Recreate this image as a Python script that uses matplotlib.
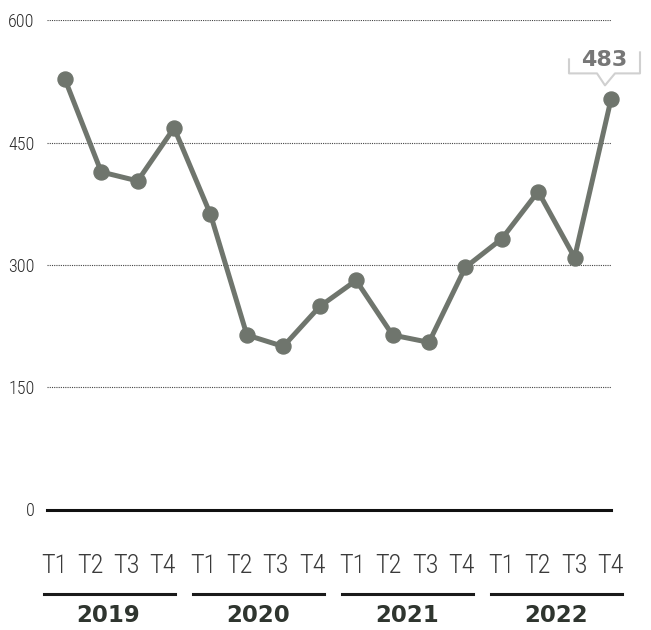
import matplotlib
matplotlib.use("Agg")
import matplotlib.pyplot as plt
from matplotlib.transforms import blended_transform_factory, IdentityTransform
from matplotlib.patches import Polygon
from matplotlib.lines import Line2D

years = ["2019", "2020", "2021", "2022"]
quarters = ["T1", "T2", "T3", "T4"]
values = [528, 414, 403, 468, 362, 214, 200, 249, 281, 214, 205, 297, 332, 390, 309, 503]
callout_text = "483"
y_ticks = [0, 150, 300, 450, 600]

line_color = "#6f756d"
narrow = ["Roboto Condensed", "Roboto", "DejaVu Sans"]

fig = plt.figure(figsize=(6.51, 6.30), dpi=100)
ax = fig.add_axes([47 / 651, (630 - 509.5) / 630, (611 - 47) / 651, 489.2 / 630])

x = list(range(len(values)))
ax.plot(x, values, color=line_color, lw=3.6, marker="o", markersize=10.8,
        clip_on=False, zorder=3)

ax.set_xlim(-0.49, 15.0)
ax.set_ylim(0, 600)
ax.set_yticks(y_ticks)
ax.set_yticklabels([str(v) for v in y_ticks], family=narrow, fontweight="light",
                   fontsize=13, color="#2a2a2a")
ax.tick_params(axis="y", length=0, pad=9)
ax.set_xticks([])
for s in ax.spines.values():
    s.set_visible(False)
for v in y_ticks[1:]:
    ax.axhline(v, color="#444444", lw=0.8, ls=(0, (1, 1)), zorder=1)
ax.axhline(0, color="#111111", lw=2.2, zorder=2, clip_on=False)

# quarter labels, year underlines and year names below the axis
tr = blended_transform_factory(ax.transData, ax.transAxes)
for g, year in enumerate(years):
    pos = [-0.298 + 0.997 * (4 * g + i) + 0.11 * g for i in range(4)]
    for p, q in zip(pos, quarters):
        ax.text(p, -0.1145, q, transform=tr, ha="center", va="center",
                family=narrow, fontweight="light", fontsize=19, color="#3a3a3a")
    ax.add_line(Line2D([pos[0] - 0.28, pos[-1] + 0.32], [-0.1727, -0.1727],
                       transform=tr, color="#1a1a1a", lw=2.2, clip_on=False))
    ax.text((pos[0] + pos[-1]) / 2, -0.2157, year, transform=tr, ha="center",
            va="center", fontsize=16.5, fontweight="bold", color="#2f352f")

# callout bubble on the last point
px, py = ax.transData.transform((x[-1], values[-1]))
px -= 5
shape = [(-37, 48), (34, 48), (34, 26), (9, 26), (-1, 14), (-9, 26), (-37, 26)]
pts = [(px + dx, py + dy) for dx, dy in shape]
fig.patches.append(Polygon(pts, closed=True, facecolor="white", edgecolor="none",
                           transform=IdentityTransform(), zorder=4))
edge = [(-37, 40), (-37, 26), (-9, 26), (-1, 14), (9, 26), (34, 26), (34, 47)]
fig.lines.append(Line2D([px + dx for dx, dy in edge], [py + dy for dx, dy in edge],
                        color="#d0d0d0", lw=1.5, transform=IdentityTransform(), zorder=5))
fig.text(px - 2, py + 39, callout_text, transform=IdentityTransform(), ha="center",
         va="center", fontsize=16, fontweight="bold", color="#777777", zorder=6)

fig.savefig("out.png", dpi=100)
